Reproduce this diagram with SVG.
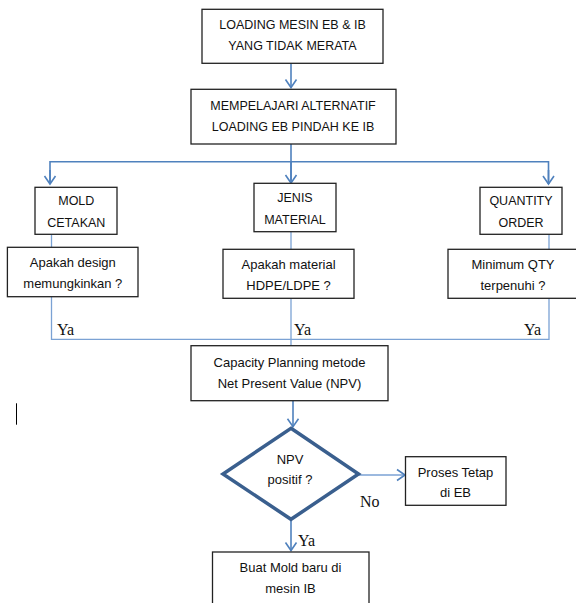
<svg xmlns="http://www.w3.org/2000/svg" width="576" height="603" viewBox="0 0 576 603">
<defs>
<style>
.box{fill:#fff;stroke:#222;stroke-width:1.3}
.t{font-family:"Liberation Sans",Arial,sans-serif;font-size:12.5px;fill:#111;text-anchor:middle}
.l{font-size:13px}
.y{font-family:"Liberation Serif","Times New Roman",serif;font-size:16px;fill:#111}
.c{fill:none;stroke:#4F81BD;stroke-width:1.6}
.j{fill:none;stroke:#7BA2D4;stroke-width:1.3}
</style>
<marker id="ah" markerUnits="userSpaceOnUse" markerWidth="14" markerHeight="14" refX="11" refY="7" orient="auto">
<path d="M3,1.5 L11,7 L3,12.5" fill="none" stroke="#4F81BD" stroke-width="1.6"/>
</marker>
</defs>
<rect width="576" height="603" fill="#fff"/>
<g id="connectors">
<path class="c" d="M291,63.3 V87.5" marker-end="url(#ah)"/>
<path class="c" d="M291,144 V181"/>
<path class="c" d="M291,161.7 V183" marker-end="url(#ah)"/>
<path class="c" d="M50,184 V161.7 H548.5 V184"/>
<path class="c" d="M50,170 V184" marker-end="url(#ah)"/>
<path class="c" d="M548.5,170 V184" marker-end="url(#ah)"/>
<path class="j" d="M51.5,234.3 V247.3"/>
<path class="j" d="M291,231.7 V249.3"/>
<path class="j" d="M549,234.3 V249.3"/>
<path class="j" d="M51.5,296.7 V339.3 H549 V298.3"/>
<path class="j" d="M291,298.3 V345.7"/>
<path class="c" d="M293,400.7 V426.7" marker-end="url(#ah)"/>
<path class="j" d="M358.5,475 H405" marker-end="url(#ah)"/>
<path class="c" d="M291,519.3 V550.5" marker-end="url(#ah)"/>
<text class="y" x="57" y="335.3">Ya</text>
<text class="y" x="294" y="335.3">Ya</text>
<text class="y" x="524" y="335.3">Ya</text>
<text class="y" x="360" y="507.3">No</text>
<text class="y" x="298" y="546">Ya</text>
</g>
<g id="n1"><rect class="box" x="202" y="9.3" width="181" height="54"/>
<text class="t" x="292.5" y="29.3">LOADING MESIN EB &amp; IB</text>
<text class="t" x="292.5" y="50">YANG TIDAK MERATA</text></g>
<g id="n2"><rect class="box" x="191" y="89.3" width="205" height="54.7"/>
<text class="t" x="293" y="110">MEMPELAJARI ALTERNATIF</text>
<text class="t" x="293" y="130.7">LOADING EB PINDAH KE IB</text></g>
<g id="mold"><rect class="box" x="35" y="187.3" width="82" height="47"/>
<text class="t" x="76.3" y="205">MOLD</text>
<text class="t" x="76.3" y="226.7">CETAKAN</text></g>
<g id="jenis"><rect class="box" x="254" y="183.3" width="82" height="48.4"/>
<text class="t" x="295" y="201.7">JENIS</text>
<text class="t" x="295" y="224">MATERIAL</text></g>
<g id="qty"><rect class="box" x="480" y="187.3" width="82" height="47"/>
<text class="t" x="521" y="205">QUANTITY</text>
<text class="t" x="521" y="226.7">ORDER</text></g>
<g id="q1"><rect class="box" x="7.4" y="247.3" width="130.6" height="49.4"/>
<text class="t l" x="72.8" y="267">Apakah design</text>
<text class="t l" x="72.8" y="288">memungkinkan ?</text></g>
<g id="q2"><rect class="box" x="223" y="249.3" width="131" height="49"/>
<text class="t l" x="288.6" y="268.5">Apakah material</text>
<text class="t l" x="288.6" y="290">HDPE/LDPE ?</text></g>
<g id="q3"><rect class="box" x="448" y="249.3" width="135" height="49"/>
<text class="t l" x="513" y="268.5">Minimum QTY</text>
<text class="t l" x="513" y="290">terpenuhi ?</text></g>
<g id="npv"><rect class="box" x="191" y="345.7" width="197" height="55"/>
<text class="t l" x="289.5" y="366.5">Capacity Planning metode</text>
<text class="t l" x="289.5" y="387.5">Net Present Value (NPV)</text></g>
<g id="dec"><path d="M291,428.3 L358.5,474 L291,519.3 L223,474 Z" fill="#fff" stroke="#3A5F8E" stroke-width="3.5" stroke-linejoin="miter"/>
<text class="t l" x="290" y="464">NPV</text>
<text class="t l" x="290" y="484">positif ?</text></g>
<g id="tetap"><rect class="box" x="405.5" y="456.7" width="100.5" height="48.6"/>
<text class="t l" x="455.5" y="477">Proses Tetap</text>
<text class="t l" x="455.5" y="497">di EB</text></g>
<g id="buat"><rect class="box" x="212.5" y="552" width="156.5" height="60"/>
<text class="t l" x="290.5" y="572">Buat Mold baru di</text>
<text class="t l" x="290.5" y="592.5">mesin IB</text></g>
<line x1="16.5" y1="403.3" x2="16.5" y2="424.7" stroke="#000" stroke-width="1"/>
</svg>
